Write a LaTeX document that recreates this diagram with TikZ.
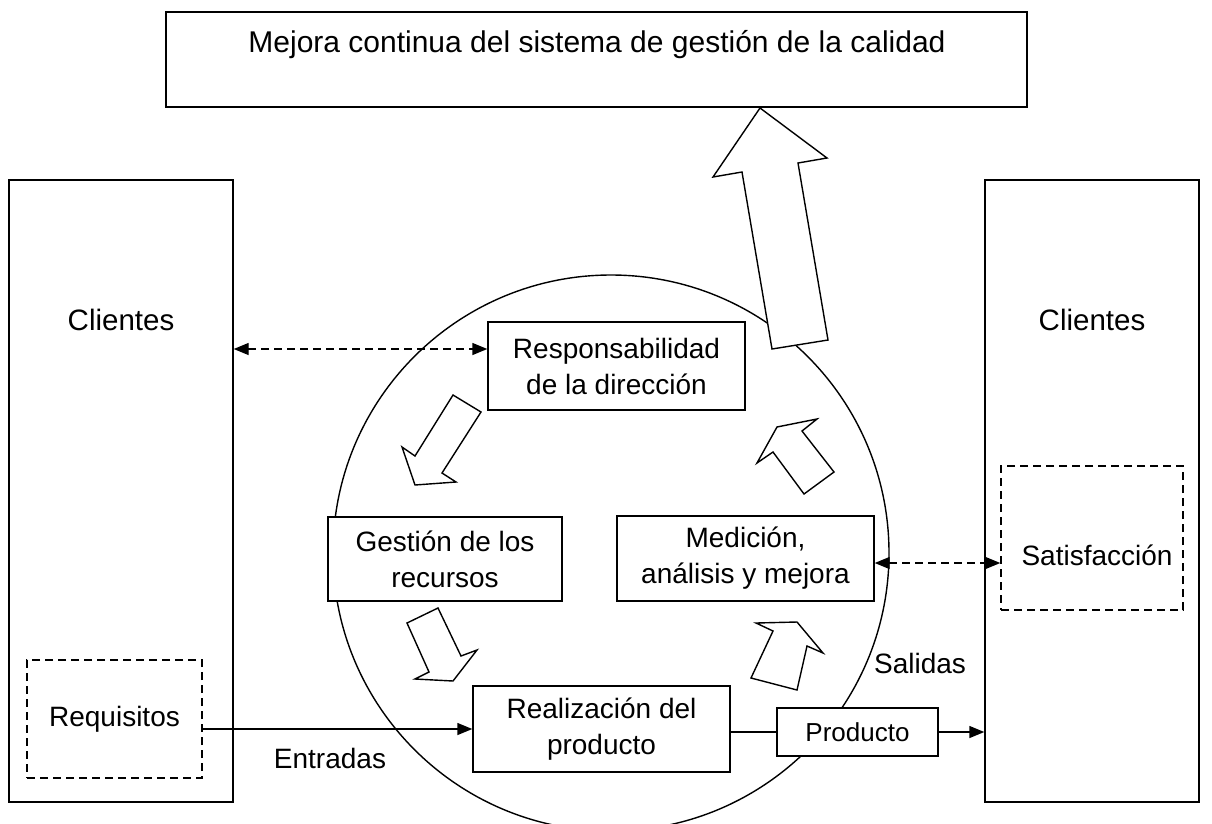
\documentclass[tikz,border=0pt]{standalone}
\usepackage{fontspec}
\setmainfont{Liberation Sans}
\usetikzlibrary{positioning, arrows.meta}

\begin{document}
\begin{tikzpicture}[x=1pt,y=-1pt,
		box/.style={draw, fill=white, line width=1.4pt, inner sep=0pt, align=center, font=\fontsize{28}{36}\selectfont},
		dashbox/.style={box, dash pattern=on 8pt off 5pt},
		txt/.style={font=\fontsize{28}{36}\selectfont},
		blockarrow/.style={draw, fill=white, line width=1.4pt, line join=miter},
		tip/.style={line width=1.4pt, -{Triangle[length=15pt,width=12pt]}},
		dashtip/.style={line width=1.4pt, {Triangle[length=15pt,width=12pt]}-{Triangle[length=15pt,width=12pt]}, dash pattern=on 8pt off 5pt}
	]
					\useasboundingbox (0,0) rectangle (1212,823);

					% cycle
					\node[circle, draw, line width=1.4pt, minimum size=556pt, inner sep=0pt] (ciclo) at (611,553) {};

					% top box
					\node[box, minimum width=861pt, minimum height=95pt] (mejora) at (596.5,59.5) {};
					\node[txt, font=\fontsize{30}{36}\selectfont] (mejoratxt) at (597,45) {Mejora continua del sistema de gestión de la calidad};

					% customers
					\node[box, minimum width=224pt, minimum height=622pt] (cliL) at (121,491) {};
					\node[txt, font=\fontsize{29.5}{36}\selectfont] (cliLtxt) at (121,320) {Clientes};
					\node[box, minimum width=214pt, minimum height=622pt] (cliR) at (1092,491) {};
					\node[txt, font=\fontsize{29.5}{36}\selectfont] (cliRtxt) at (1092,320) {Clientes};

					\node[dashbox, minimum width=175pt, minimum height=118pt] (req) at (114.5,719) {Requisitos};
					\node[dashbox, minimum width=182pt, minimum height=144pt] (sat) at (1092,538) {};
					\node[txt] (sattxt) at (1097,555) {Satisfacción};

					% processes
					\node[box, minimum width=257pt, minimum height=88pt] (resp) at (616.5,366) {Responsabilidad\\de la dirección};
					\node[box, minimum width=234pt, minimum height=84pt] (gest) at (445,559) {Gestión de los\\recursos};
					\node[box, minimum width=257pt, minimum height=85pt] (med) at (745.5,558.5) {Medición,\\análisis y mejora};
					\node[box, minimum width=257pt, minimum height=86pt] (real) at (601.5,729) {Realización del\\producto};
					\node[box, minimum width=161pt, minimum height=48pt, font=\fontsize{26}{30}\selectfont] (prod) at (857.5,732) {Producto};

					\node[txt] (entradas) at (330,758) {Entradas};
					\node[txt] (salidas) at (920,663) {Salidas};

					% block arrows
					\draw[blockarrow] (760,108) -- (827,158) -- (798,163) -- (828,340) -- (772,349) -- (742,172) -- (713,177) -- cycle;
					\draw[blockarrow] (453,395) -- (481,412) -- (442,473) -- (456,482) -- (415,485) -- (402,447) -- (415,456) -- cycle;
					\draw[blockarrow] (777,427) -- (817,419) -- (802,431) -- (834,472) -- (804,494) -- (773,452) -- (757,463) -- cycle;
					\draw[blockarrow] (407,623) -- (438,608) -- (461,656) -- (477,650) -- (453,681) -- (415,679) -- (429,672) -- cycle;
					\draw[blockarrow] (756,623) -- (797,622) -- (823,653) -- (807,646) -- (797,690) -- (751,678) -- (773,631) -- cycle;

					% flows
					\coordinate (respin) at ([yshift=17pt]resp.west);
					\coordinate (medout) at ([yshift=-4.5pt]med.east);
					\draw[dashtip] (respin -| cliL.east) -- (respin);
					\draw[dashtip] (medout) -- (medout -| sat.west);
					\draw[tip] (real.west -| req.east) -- (real.west);
					\draw[line width=1.4pt] (real.east |- prod.west) -- (prod.west);
					\draw[tip] (prod.east) -- (prod.east -| cliR.west);
				\end{tikzpicture}
\end{document}
